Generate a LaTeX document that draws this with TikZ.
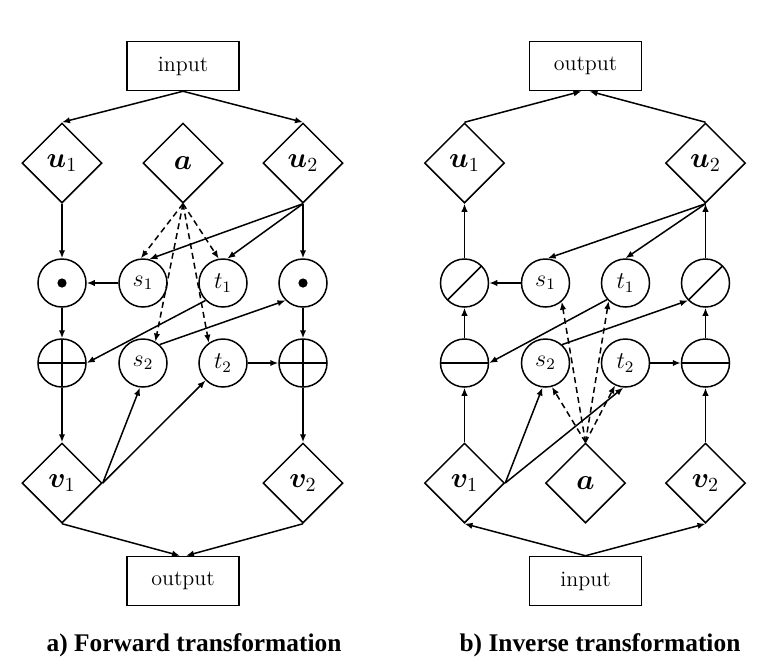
\documentclass[tikz,border=0pt]{standalone}
\usepackage{bm}
\usepackage{fontspec}
\newfontfamily\capfont{Liberation Serif}
\usetikzlibrary{shapes.geometric,arrows.meta}
\begin{document}
\begin{tikzpicture}[x=0.5pt,y=-0.5pt, line width=0.75pt,
  >={Latex[length=4pt,width=3.2pt]},
  box/.style={draw, minimum width=56pt, minimum height=24.5pt, inner sep=0pt, font=\fontsize{11}{13}\selectfont},
  dia/.style={draw, diamond, minimum width=40pt, minimum height=40pt, inner sep=0pt, font=\fontsize{14.4}{17}\selectfont},
  cir/.style={draw, circle, minimum size=24pt, inner sep=0pt, font=\fontsize{12}{14}\selectfont},
  dotc/.style={cir, path picture={\fill (path picture bounding box.center) circle (2.3pt);}},
  plusc/.style={cir, path picture={\draw (path picture bounding box.north) -- (path picture bounding box.south) (path picture bounding box.west) -- (path picture bounding box.east);}},
  minusc/.style={cir, path picture={\draw (path picture bounding box.west) -- (path picture bounding box.east);}},
  divc/.style={cir, path picture={\draw (path picture bounding box.south west) -- (path picture bounding box.north east);}},
  dsh/.style={->, dash pattern=on 3pt off 2pt},
  captxt/.style={font=\capfont\bfseries\fontsize{12.7}{15}\selectfont}
]
\useasboundingbox (0,0) rectangle (778,670);

% ---------- a) forward ----------
\node[box] (inL) at (183,66) {input};
\node[dia] (u1L) at (62,163) {$\bm{u}_1$};
\node[dia] (aL) at (183,163) {$\bm{a}$};
\node[dia] (u2L) at (303,163) {$\bm{u}_2$};
\node[dotc] (m1L) at (62,283) {};
\node[cir] (s1L) at (143,283) {$s_1$};
\node[cir] (t1L) at (223,283) {$t_1$};
\node[dotc] (m2L) at (303,283) {};
\node[plusc] (p1L) at (62,363) {};
\node[cir] (s2L) at (143,363) {$s_2$};
\node[cir] (t2L) at (223,363) {$t_2$};
\node[plusc] (p2L) at (303,363) {};
\node[dia] (v1L) at (62,483) {$\bm{v}_1$};
\node[dia] (v2L) at (303,483) {$\bm{v}_2$};
\node[box] (outL) at (183,581) {output};
\node[captxt] (capL) at (194,645) {a) Forward transformation};

\draw[->] (inL.south) -- (u1L.north);
\draw[->] (inL.south) -- (u2L.north);
\draw[->] (u1L.south) -- (m1L.north);
\draw[->] (u2L.south) -- (m2L.north);
\draw[->] (u2L.south) -- (s1L.75);
\draw[->] (u2L.south) -- (t1L.80);
\draw[dsh] (aL.south) -- (s1L.95);
\draw[dsh] (aL.south) -- (t1L.100);
\draw[dsh] (aL.south) -- (s2L.60);
\draw[dsh] (aL.south) -- (t2L.125);
\draw[->] (s1L.west) -- (m1L.east);
\draw[->] (t1L.225) -- (p1L.east);
\draw[->] (s2L.48) -- (m2L.225);
\draw[->] (m1L.south) -- (p1L.north);
\draw[->] (m2L.south) -- (p2L.north);
\draw[->] (t2L.east) -- (p2L.west);
\draw[->] (p1L.south) -- (v1L.north);
\draw[->] (p2L.south) -- (v2L.north);
\draw[->] (v1L.east) -- (s2L.-97);
\draw[->] (v1L.east) -- (t2L.225);
\draw[->] (v1L.south) -- ([xshift=-1.5pt]outL.north);
\draw[->] (v2L.south) -- ([xshift=1.5pt]outL.north);

% ---------- b) inverse ----------
\node[box] (outR) at (585.5,66) {output};
\node[dia] (u1R) at (464.5,163) {$\bm{u}_1$};
\node[dia] (u2R) at (705.5,163) {$\bm{u}_2$};
\node[divc] (d1R) at (464.5,283) {};
\node[cir] (s1R) at (545.5,283) {$s_1$};
\node[cir] (t1R) at (625.5,283) {$t_1$};
\node[divc] (d2R) at (705.5,283) {};
\node[minusc] (n1R) at (464.5,363) {};
\node[cir] (s2R) at (545.5,363) {$s_2$};
\node[cir] (t2R) at (625.5,363) {$t_2$};
\node[minusc] (n2R) at (705.5,363) {};
\node[dia] (v1R) at (464.5,483) {$\bm{v}_1$};
\node[dia] (aR) at (585.5,483) {$\bm{a}$};
\node[dia] (v2R) at (705.5,483) {$\bm{v}_2$};
\node[box] (inR) at (585.5,581) {input};
\node[captxt] (capR) at (600,645) {b) Inverse transformation};

\draw[->] (u1R.north) -- ([xshift=-2pt]outR.south);
\draw[->] (u2R.north) -- ([xshift=2pt]outR.south);
\draw[->] (d1R.north) -- (u1R.south);
\draw[->] (d2R.north) -- (u2R.south);
\draw[->] (u2R.south) -- (s1R.85);
\draw[->] (u2R.south) -- (t1R.90);
\draw[->] (s1R.west) -- (d1R.east);
\draw[->] (t1R.222) -- (n1R.east);
\draw[->] (s2R.48) -- (d2R.225);
\draw[->] (t2R.east) -- (n2R.west);
\draw[->] (n1R.north) -- (d1R.south);
\draw[->] (n2R.north) -- (d2R.south);
\draw[->] (v1R.north) -- (n1R.south);
\draw[->] (v2R.north) -- (n2R.south);
\draw[->] (v1R.east) -- (s2R.-97);
\draw[->] (v1R.east) -- (t2R.-95);
\draw[dsh] (aR.north) -- (s1R.-49);
\draw[dsh] (aR.north) -- (t1R.-133);
\draw[dsh] (aR.north) -- (s2R.-75);
\draw[dsh] (aR.north) -- (t2R.-115);
\draw[->] (inR.north) -- (v1R.south);
\draw[->] (inR.north) -- (v2R.south);
\end{tikzpicture}
\end{document}
